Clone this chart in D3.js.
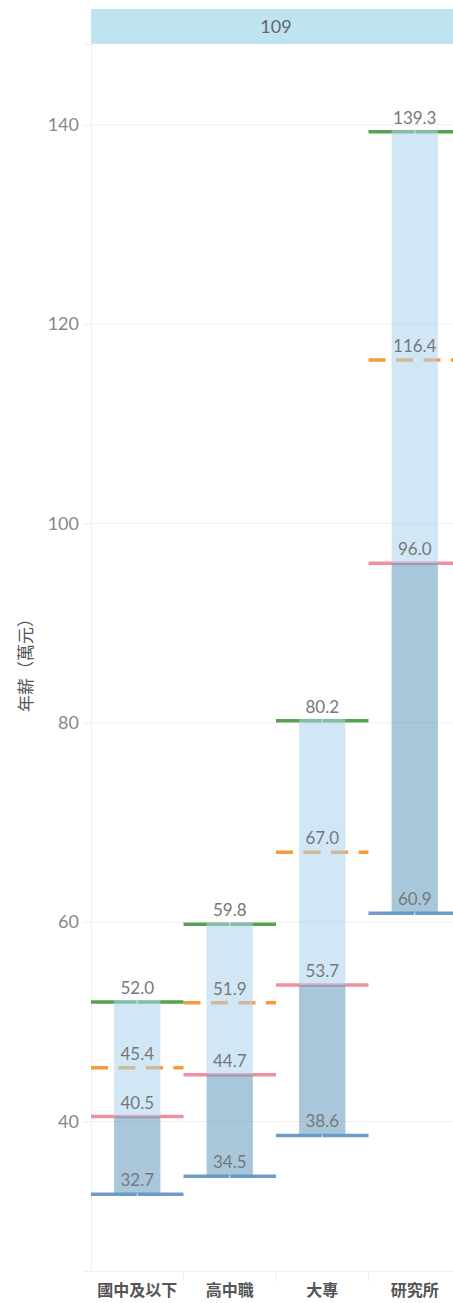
<!DOCTYPE html>
<html>
<head>
<meta charset="utf-8">
<script src="https://cdn.jsdelivr.net/npm/d3@7"></script>
<style>
  body { margin: 0; background: #fff; }
  text { font-family: Lato, "Noto Sans CJK TC", sans-serif; }
</style>
</head>
<body>
<svg id="chart" width="453" height="1303"></svg>
<script>
// education levels and salary stats (10k NTD)
const categories = ["國中及以下", "高中職", "大專", "研究所"];
const minVals    = [32.7, 34.5, 38.6, 60.9];
const medianVals = [40.5, 44.7, 53.7, 96.0];
const meanVals   = [45.4, 51.9, 67.0, 116.4];
const maxVals    = [52.0, 59.8, 80.2, 139.3];
const yTicks = [40, 60, 80, 100, 120, 140];
const headerLabel = "109";

const svg = d3.select("#chart");

const plotLeft = 91, plotRight = 461, plotTop = 44, plotBottom = 1271;

let y = d3.scaleLinear().domain([25, 148.1]).range([plotBottom, plotTop]);
let x = d3.scaleBand().domain(categories).range([plotLeft, plotRight]);
let bw = x.bandwidth() / 2;

// header band
svg.append("rect")
    .attr("x", plotLeft).attr("y", 9)
    .attr("width", plotRight - plotLeft).attr("height", 35)
    .attr("fill", "#bee5ef");
svg.append("text")
    .attr("x", (plotLeft + plotRight) / 2).attr("y", 33)
    .attr("text-anchor", "middle")
    .attr("font-size", 18).attr("fill", "#666")
    .text(headerLabel);

// gridlines + y axis
let yAxis = svg.append("g")
    .attr("transform", "translate(" + plotLeft + ",0)")
    .call(d3.axisLeft(y).tickValues(yTicks).tickSize(8).tickPadding(4));
yAxis.select(".domain").attr("stroke", "#f0f0f0");
yAxis.selectAll(".tick line").attr("stroke", "#eee");
yAxis.selectAll(".tick text")
    .attr("font-size", 18).attr("fill", "#888")
    .style("font-family", "Lato, sans-serif");

svg.append("g").selectAll("line")
    .data(yTicks)
    .enter()
    .append("line")
    .attr("x1", plotLeft).attr("x2", plotRight)
    .attr("y1", d => y(d)).attr("y2", d => y(d))
    .attr("stroke", "#eee");

// x axis
let xAxis = svg.append("g")
    .attr("transform", "translate(0," + plotBottom + ")")
    .call(d3.axisBottom(x).tickSize(0).tickPadding(14));
xAxis.select(".domain").attr("stroke", "#eee");
xAxis.selectAll(".tick text")
    .attr("font-size", 16).attr("font-weight", "bold").attr("fill", "#555")
    .style("font-family", "'Noto Sans CJK TC', sans-serif");

svg.append("g").selectAll("line")
    .data(categories.slice(1))
    .enter()
    .append("line")
    .attr("x1", d => x(d)).attr("x2", d => x(d))
    .attr("y1", plotBottom).attr("y2", plotBottom + 10)
    .attr("stroke", "#eee");

// y axis title
svg.append("text")
    .attr("transform", "translate(32,661) rotate(-90)")
    .attr("text-anchor", "middle")
    .attr("font-size", 17).attr("fill", "#555")
    .style("font-family", "'Noto Sans CJK TC', sans-serif")
    .text("年薪（萬元）");

// reference lines
function refLines(vals, color, dash) {
    svg.append("g").selectAll("line")
        .data(categories)
        .enter()
        .append("line")
        .attr("x1", d => x(d)).attr("x2", d => x(d) + x.bandwidth())
        .attr("y1", (d, i) => y(vals[i])).attr("y2", (d, i) => y(vals[i]))
        .attr("stroke", color)
        .attr("stroke-width", 3.5)
        .attr("stroke-dasharray", dash);
}
refLines(minVals, "#6e9bc8", null);
refLines(medianVals, "#f08fa0", null);
refLines(meanVals, "#f89b3a", "17,10.5");
refLines(maxVals, "#58a14e", null);

// small white notch at centre of min / max lines
[minVals, maxVals].forEach(function(vals) {
    svg.append("g").selectAll("line")
        .data(categories)
        .enter()
        .append("line")
        .attr("x1", d => x(d) + x.bandwidth() / 2).attr("x2", d => x(d) + x.bandwidth() / 2)
        .attr("y1", (d, i) => y(vals[i]) - 2).attr("y2", (d, i) => y(vals[i]) + 2)
        .attr("stroke", "#fff")
        .attr("stroke-width", 1);
});

// upper box (median to max)
svg.append("g").selectAll("rect")
    .data(categories)
    .enter()
    .append("rect")
    .attr("x", d => x(d) + bw / 2)
    .attr("y", (d, i) => y(maxVals[i]) - 2)
    .attr("width", bw)
    .attr("height", (d, i) => y(medianVals[i]) - y(maxVals[i]) + 2)
    .attr("fill", "#add3ed")
    .attr("opacity", 0.55);

// lower box (min to median)
svg.append("g").selectAll("rect")
    .data(categories)
    .enter()
    .append("rect")
    .attr("x", d => x(d) + bw / 2)
    .attr("y", (d, i) => y(medianVals[i]))
    .attr("width", bw)
    .attr("height", (d, i) => y(minVals[i]) - y(medianVals[i]))
    .attr("fill", "#6199bd")
    .attr("opacity", 0.55);

// value labels
let allVals = [minVals, medianVals, meanVals, maxVals];
allVals.forEach(function(vals) {
    svg.append("g").selectAll("text")
        .data(categories)
        .enter()
        .append("text")
        .attr("x", d => x(d) + x.bandwidth() / 2)
        .attr("y", (d, i) => y(vals[i]) - 8)
        .attr("text-anchor", "middle")
        .attr("font-size", 17).attr("fill", "#777")
        .text((d, i) => vals[i].toFixed(1));
});
</script>
</body>
</html>
